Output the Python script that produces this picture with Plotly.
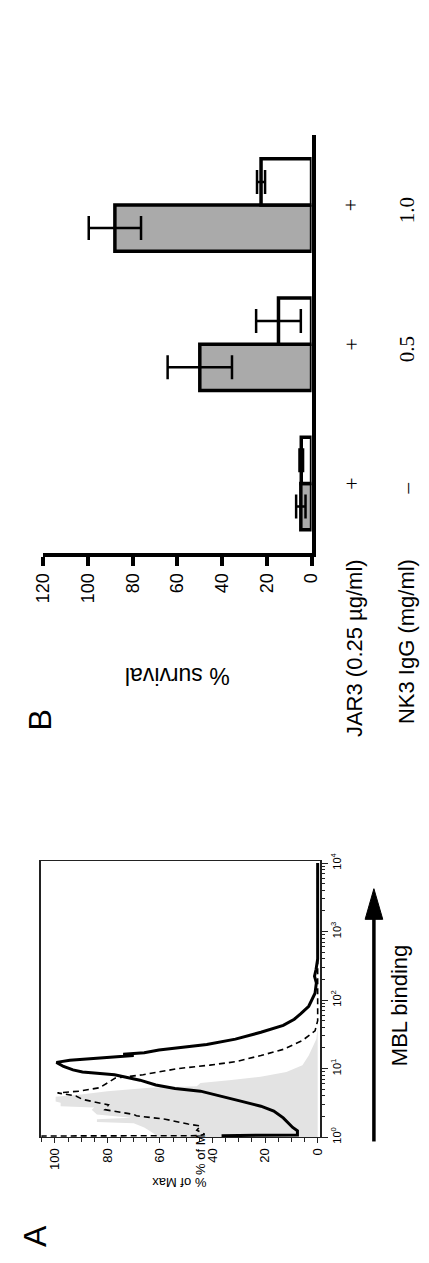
import plotly.graph_objects as go

# ---------------- data ----------------
# Panel A: flow cytometry histograms (log10 of MBL fluorescence, % of max)
gray_exp = [0.0, 0.04, 0.09, 0.14, 0.20, 0.22, 0.26, 0.28, 0.33, 0.40, 0.43, 0.45, 0.50, 0.52, 0.59,
            0.62, 0.67, 0.70, 0.72, 0.74, 0.79, 0.83, 0.88, 0.95, 1.05, 1.19, 1.34, 1.43, 1.6, 4.0]
gray_pct = [62, 62, 64, 66, 70, 84, 84, 71, 84, 86, 85, 97.8, 97.8, 99.7, 99.7,
            90, 80, 72, 64, 46, 44.6, 33.7, 21.7, 11.9, 5.8, 3.4, 1.6, 0.5, 0, 0]

dash_exp = [0.0, 0.015, 0.02, 0.04, 0.10, 0.16, 0.19, 0.23, 0.26, 0.31, 0.33, 0.40, 0.47, 0.55, 0.60,
            0.645, 0.67, 0.72, 0.79, 0.86, 0.91, 1.0, 1.05, 1.10, 1.19, 1.28, 1.41, 1.55, 1.7, 4.0]
dash_pct = [105, 105, 45, 43, 46, 44.6, 49.3, 54.4, 58, 69, 70, 81, 79.6, 89.5, 92,
            99, 90.7, 83, 80, 77, 66.4, 53.1, 41, 31.3, 21.6, 13.1, 5.8, 1.0, 0, 0]

solid_exp = [0.0, 0.02, 0.03, 0.09, 0.14, 0.28, 0.38, 0.45, 0.52, 0.59, 0.67, 0.71, 0.76, 0.83, 0.88,
             0.91, 0.95, 0.98, 1.03, 1.09, 1.12, 1.15, 1.19, 1.21, 1.23, 1.27, 1.35, 1.43, 1.53, 1.63,
             1.72, 1.80, 1.91, 2.1, 2.25, 2.35, 2.45, 2.6, 4.0]
solid_pct = [36, 36, 7.7, 7.7, 9.5, 13.1, 16.7, 21.6, 28.9, 36.1, 44.6, 54.3, 61.6, 67.6, 74,
             77.3, 89.5, 93.1, 96.7, 99.4, 94.3, 84.6, 70, 74, 66, 60.4, 42.2, 31.3, 21.6, 13.1,
             8.9, 6.5, 3.4, 1.0, 0.5, 1.2, 0.6, 0, 0]

pct_ticks = [0, 20, 40, 60, 80, 100]
log_ticks = [1, 10, 100, 1000, 10000]
log_tick_text = ["10<sup>0</sup>", "10<sup>1</sup>", "10<sup>2</sup>", "10<sup>3</sup>", "10<sup>4</sup>"]

# Panel B: % survival
nk3_labels = ["–", "0.5", "1.0"]
jar3_labels = ["+", "+", "+"]
survival_gray = [4.8, 50.0, 88.0]
survival_gray_err = [2.1, 14.4, 11.7]
survival_white = [4.6, 14.8, 22.6]
survival_white_err = [0.8, 10.0, 1.8]
survival_ticks = [0, 20, 40, 60, 80, 100, 120]

# ---------------- layout helpers ----------------
W, H = 429, 1263
def px(x):
    return x / W
def py(y):
    return 1 - y / H

SANS = "Liberation Sans, Arial, sans-serif"
SERIF = "Liberation Serif, Times New Roman, serif"

fig = go.Figure()

# Panel A traces
fig.add_trace(go.Scatter(x=gray_pct, y=[10 ** e for e in gray_exp], mode="lines",
                         fill="tozerox", fillcolor="#e3e3e3", line=dict(width=0, color="#e3e3e3"),
                         xaxis="x", yaxis="y", hoverinfo="skip"))
fig.add_trace(go.Scatter(x=dash_pct, y=[10 ** e for e in dash_exp], mode="lines",
                         line=dict(color="black", width=1.6, dash="6px,4px"),
                         xaxis="x", yaxis="y"))
fig.add_trace(go.Scatter(x=solid_pct, y=[10 ** e for e in solid_exp], mode="lines",
                         line=dict(color="black", width=3),
                         xaxis="x", yaxis="y"))

# Panel B traces
fig.add_trace(go.Bar(y=nk3_labels, x=survival_gray, orientation="h",
                     marker=dict(color="#aaaaaa", line=dict(color="black", width=3.5)),
                     error_x=dict(type="data", array=survival_gray_err, color="black", thickness=2.5, width=12),
                     xaxis="x2", yaxis="y2"))
fig.add_trace(go.Bar(y=nk3_labels, x=survival_white, orientation="h",
                     marker=dict(color="white", line=dict(color="black", width=3.5)),
                     error_x=dict(type="data", array=survival_white_err, color="black", thickness=2.5, width=12),
                     xaxis="x2", yaxis="y2"))

minor_log = [k * 10 ** d for d in range(4) for k in range(2, 10)]

fig.update_layout(
    width=W, height=H,
    margin=dict(l=0, r=0, t=0, b=0),
    paper_bgcolor="white", plot_bgcolor="white",
    showlegend=False,
    barmode="group", bargap=0.336, bargroupgap=0,
    font=dict(family=SANS, color="black"),
    xaxis=dict(domain=[px(33), px(325)], range=[105.1, -0.83], anchor="y",
               showgrid=False, zeroline=False, showline=True, mirror=True,
               linecolor="#222", linewidth=1.3,
               tickvals=pct_ticks, ticks="outside", ticklen=5, tickwidth=1, tickcolor="#222",
               minor=dict(dtick=5, ticks="outside", ticklen=4, tickwidth=1, tickcolor="#222", showgrid=False),
               tickangle=-90, tickfont=dict(size=13, family=SANS)),
    yaxis=dict(domain=[py(1142.5), py(863)], type="log", range=[0, 4.03], anchor="x", side="right",
               showgrid=False, zeroline=False, showline=True, mirror=True,
               linecolor="#222", linewidth=1.5,
               tickvals=log_ticks, ticktext=log_tick_text,
               ticks="outside", ticklen=6, tickwidth=1.2, tickcolor="#222",
               minor=dict(tickvals=minor_log, ticks="outside", ticklen=3, tickwidth=1, tickcolor="#222", showgrid=False),
               tickangle=-90, tickfont=dict(size=11, family=SANS)),
    xaxis2=dict(domain=[px(35), px(316.3)], range=[120, 0], anchor="y2",
                showgrid=False, zeroline=False, showline=True, linecolor="black", linewidth=4,
                tickvals=survival_ticks, ticks="outside", ticklen=9, tickwidth=4, tickcolor="black",
                tickangle=-90, tickfont=dict(size=18, family=SANS)),
    yaxis2=dict(domain=[py(551), py(128)], range=[-0.5, 2.5], anchor="x2", side="right",
                type="category",
                showgrid=False, zeroline=False, showline=True, linecolor="black", linewidth=4,
                ticks="", showticklabels=False),
)

ann = []
def text(t, x, y, size, angle, family=SANS, xanchor="center", yanchor="middle", yref="paper", yval=None):
    ann.append(dict(text=t, x=px(x), y=(py(y) if yval is None else yval), xref="paper", yref=yref,
                    showarrow=False, textangle=angle, xanchor=xanchor, yanchor=yanchor,
                    font=dict(size=size, family=family, color="black")))

text("B", 31, 720, 32, -90)
text("% survival", 175, 675, 23, 180)
text("JAR3 (0.25 µg/ml)", 362, 555, 22, -90, yanchor="top")
text("NK3 IgG (mg/ml)", 416, 555, 22, -90, yanchor="top")
for i, (lab_j, lab_n) in enumerate(zip(jar3_labels, nk3_labels)):
    text(lab_j, 358, 0, 22, -90, family=SERIF, yref="y2", yval=i)
    text(lab_n, 416, 0, 21, -90, family=SERIF, yref="y2", yval=i - 0.04)

text("A", 27, 1243, 32, -90)
text("MBL binding", 408, 1009, 22, -90)
text("% of Max", 177, 1188, 13, 180)
text("% of M", 200, 1161, 13, -90)

fig.update_layout(annotations=ann)

# arrow for "MBL binding"
fig.add_shape(type="line", xref="paper", yref="paper",
              x0=px(381.7), x1=px(381.7), y0=py(1147), y1=py(918),
              line=dict(color="black", width=3.5))
fig.add_shape(type="path", xref="paper", yref="paper",
              path=f"M {px(372.5)} {py(922)} L {px(391)} {py(922)} L {px(381.7)} {py(891)} Z",
              fillcolor="black", line=dict(color="black", width=1))

fig.write_html(
    "out.html",
    config={"displayModeBar": False},
    post_script="document.body.style.margin='0';document.body.style.padding='0';"
                "document.documentElement.style.overflow='hidden';document.body.style.overflow='hidden';",
)
